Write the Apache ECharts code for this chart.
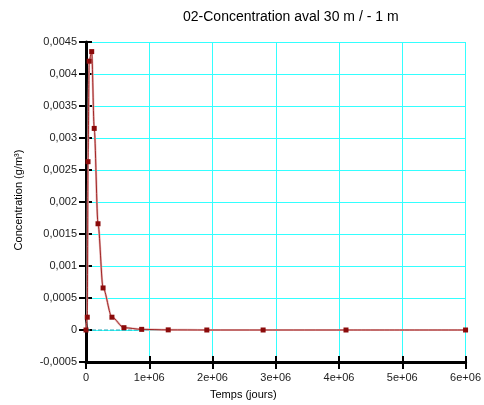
<!DOCTYPE html>
<html><head><meta charset="utf-8">
<script src="https://cdn.jsdelivr.net/npm/echarts@6/dist/echarts.min.js"></script>
<style>html,body{margin:0;padding:0;background:#fff}#c{width:484px;height:405px}</style>
</head><body><div id="c"></div>
<script>
var titleText = "02-Concentration aval 30 m / - 1 m";
var xName = "Temps (jours)";
var yName = "Concentration (g/m³)";
var times = [0, 20000, 32000, 50000, 90000, 130000, 190000, 270000, 410000, 600000, 880000, 1300000, 1910000, 2800000, 4110000, 6000000];
var conc = [0, 0.0002, 0.00263, 0.0042, 0.00435, 0.00315, 0.00166, 0.000657, 0.0002, 0.000036, 0.00001, 0.000002, 0, 0, 0, 0];
var zeroLineX = [0, 1000000];
var zeroLineY = [0, 0];
var yTickStep = 0.0005;

var pts = times.map(function(t, i){ return [t, conc[i]]; });
var zpts = zeroLineX.map(function(t, i){ return [t, zeroLineY[i]]; });
var font = "Liberation Sans, Arial, sans-serif";
function fmtY(v){ return String(+v.toFixed(4)).replace('.', ','); }
function fmtX(v){ if (v === 0) return '0'; return (v/1e6) + 'e+06'; }

var chart = echarts.init(document.getElementById('c'), null, {renderer:'canvas'});
chart.setOption({
  animation:false,
  backgroundColor:'#fff',
  grid:{left:86, right:16, top:42, bottom:43},
  graphic:[
    {type:'text', left:183, top:10, style:{text:titleText, font:'14px '+font, fill:'#000'}},
    {type:'text', left:210, top:389, style:{text:xName, font:'11px '+font, fill:'#000'}},
    {type:'text', x:19, y:200, rotation:Math.PI/2, style:{text:yName, font:'11px '+font, fill:'#000', textAlign:'center', textVerticalAlign:'middle'}}
  ],
  xAxis:[
    {type:'value', min:0, max:6000000, interval:1000000,
     axisLine:{onZero:false, lineStyle:{color:'#000', width:3}},
     axisTick:{length:7, lineStyle:{color:'#000', width:2}},
     axisLabel:{formatter:fmtX, color:'#222', fontSize:11, fontFamily:font, margin:10},
     splitLine:{show:true, lineStyle:{color:'#33ffff', width:1}}},
    {type:'value', min:0, max:6000000, interval:1000000, position:'bottom',
     axisLine:{show:false, onZero:false}, axisTick:{inside:true, length:6, lineStyle:{color:'#000', width:2}},
     axisLabel:{show:false}, splitLine:{show:false}}
  ],
  yAxis:[
    {type:'value', min:-0.0005, max:0.0045, interval:yTickStep,
     axisLine:{onZero:false, lineStyle:{color:'#000', width:3}},
     axisTick:{length:7, lineStyle:{color:'#000', width:2}},
     axisLabel:{formatter:fmtY, color:'#222', fontSize:11, fontFamily:font, margin:9},
     splitLine:{show:true, lineStyle:{color:'#33ffff', width:1}}},
    {type:'value', min:-0.0005, max:0.0045, interval:yTickStep, position:'left',
     axisLine:{show:false, onZero:false}, axisTick:{inside:true, length:6, lineStyle:{color:'#000', width:2}},
     axisLabel:{show:false}, splitLine:{show:false}}
  ],
  series:[
    {type:'line', data:zpts, symbol:'none', lineStyle:{color:'#2aa8b8', width:1, type:'dashed'}, silent:true, z:1},
    {type:'line', data:pts, symbol:'none', smooth:0.3, smoothMonotone:'x', lineStyle:{color:'#e3b3b3', width:2.2}, silent:true, z:2},
    {type:'line', data:pts, symbol:'rect', symbolSize:5, smooth:0.3, smoothMonotone:'x',
     itemStyle:{color:'#8b0a0a'}, lineStyle:{color:'#9b1515', width:0.9}, z:3}
  ]
});
</script></body></html>
